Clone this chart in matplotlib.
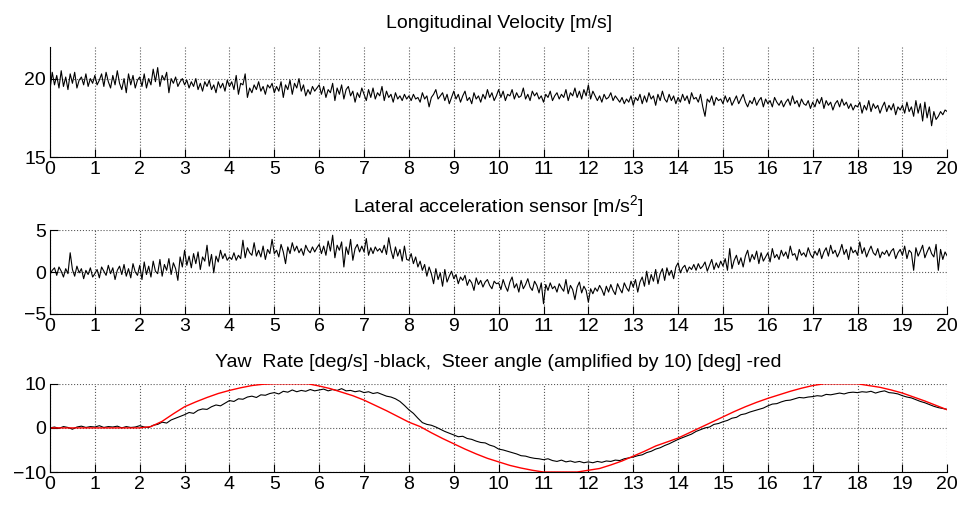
import numpy as np
import matplotlib
matplotlib.use("Agg")
import matplotlib.pyplot as plt

plt.rcParams['font.family'] = ['Liberation Sans', 'DejaVu Sans']
plt.rcParams['mathtext.default'] = 'regular'

# longitudinal velocity [m/s], 0.05 s steps
velocidade = [
    19.3, 20.4, 19.6, 20.2, 19.4, 20.5, 19.5, 20.1, 19.3, 20.3, 19.7, 20.4, 19.4, 19.9, 20.1, 19.6, 20.3, 19.5, 20.0, 19.7,
    20.2, 19.6, 19.9, 20.3, 19.5, 20.4, 19.8, 19.4, 20.2, 19.6, 20.5, 19.7, 19.3, 20.0, 19.1, 20.3, 19.6, 20.2, 19.4, 19.9,
    20.1, 19.5, 20.3, 19.4, 20.0, 19.6, 20.6, 19.8, 20.7, 19.5, 20.2, 19.9, 20.4, 19.1, 20.0, 19.7, 20.1, 19.5, 19.8, 20.0,
    19.6, 19.9, 19.4, 19.8, 19.5, 20.0, 19.3, 19.7, 19.2, 19.8, 19.5, 19.9, 19.3, 19.6, 19.1, 19.8, 19.4, 19.7, 19.2, 19.9,
    19.5, 19.8, 19.3, 20.2, 19.0, 19.7, 19.6, 20.3, 18.8, 19.4, 19.1, 19.6, 19.3, 19.8, 19.2, 19.5, 19.0, 19.6, 19.4, 19.7,
    19.1, 19.5, 19.2, 19.8, 18.8, 19.6, 19.3, 19.9, 19.0, 19.7, 19.4, 20.0, 19.2, 19.6, 18.9, 19.3, 19.0, 19.5, 19.2, 19.4,
    19.6, 19.0, 19.5, 18.8, 19.3, 19.1, 19.7, 18.6, 19.4, 19.0, 19.6, 18.7, 19.3, 19.5, 18.9, 19.2, 18.5, 19.1, 18.8, 19.4,
    19.0, 18.6, 19.3, 18.8, 19.4, 18.7, 19.1, 18.9, 19.5, 18.6, 19.2, 18.8, 19.0, 18.5, 19.1, 18.7, 18.9, 18.6, 19.0, 18.7,
    18.9, 18.6, 19.0, 18.7, 18.8, 18.5, 19.1, 18.7, 18.9, 18.2, 18.8, 19.0, 19.3, 18.7, 18.9, 19.1, 18.6, 19.0, 18.4, 18.8,
    19.2, 18.7, 19.0, 18.5, 18.9, 19.2, 18.6, 18.8, 18.4, 19.1, 18.7, 18.9, 18.5, 19.0, 18.7, 19.3, 18.8, 19.1, 18.6, 18.9,
    19.3, 18.8, 19.2, 18.6, 19.0, 18.9, 19.3, 18.7, 19.1, 18.8, 18.9, 19.4, 18.7, 19.0, 18.6, 19.2, 18.9, 19.1, 18.7, 18.9,
    18.5, 19.0, 18.8, 19.2, 18.6, 18.9, 19.1, 18.7, 19.0, 18.8, 19.3, 18.6, 19.1, 18.9, 19.4, 18.8, 19.2, 18.7, 19.3, 18.9,
    19.6, 18.7, 19.2, 18.9, 18.6, 18.9, 18.5, 19.0, 18.7, 18.8, 19.1, 18.6, 18.9, 18.7, 18.5, 18.8, 18.4, 18.7, 18.5, 18.9,
    18.3, 18.8, 18.6, 19.0, 18.4, 18.9, 18.5, 19.1, 18.7, 18.9, 18.3, 19.0, 18.6, 19.2, 18.7, 18.5, 19.0, 18.6, 18.9, 18.4,
    18.8, 18.5, 19.0, 18.6, 18.9, 18.4, 19.1, 18.7, 18.8, 18.5, 19.0, 18.2, 17.6, 18.7, 18.5, 18.9, 18.3, 18.8, 18.6, 18.7,
    18.4, 18.9, 18.5, 18.8, 18.3, 18.6, 18.9, 18.4, 18.7, 19.0, 18.5, 18.2, 18.6, 18.4, 18.8, 18.3, 18.6, 18.8, 18.2, 18.7,
    18.4, 18.6, 18.2, 18.8, 18.5, 18.3, 18.6, 18.2, 18.5, 18.7, 18.3, 18.9, 18.4, 18.6, 18.2, 18.7, 18.4, 18.3, 18.6, 18.1,
    18.5, 18.2, 18.7, 18.4, 18.8, 18.1, 18.6, 18.3, 18.5, 18.0, 18.4, 18.6, 18.2, 18.7, 18.3, 18.5, 18.1, 18.4, 18.0, 18.3,
    18.2, 18.5, 17.8, 18.3, 18.0, 18.6, 17.9, 18.4, 18.1, 18.3, 17.8, 18.2, 18.5, 17.9, 18.3, 18.0, 18.4, 17.7, 18.2, 18.0,
    18.3, 17.8, 18.5, 17.9, 18.2, 17.6, 18.6, 17.8, 18.4, 17.3, 18.5, 17.5, 18.2, 17.0, 17.9, 17.4, 17.6, 17.9, 17.7, 18.0,
    17.9,
]

# lateral acceleration [m/s^2], 0.05 s steps
acel_lateral = [
    -0.3, 0.2, 0.5, -0.4, 0.6, 0.1, -0.6, 0.4, -0.2, 2.3, 0.3, -0.5, 0.7, -0.1, 0.4, -0.8, 0.2, -0.3, 0.5, -0.6,
    -0.2, 0.3, -0.7, 0.6, 0.1, -0.4, 0.8, -0.2, 0.5, -0.9, 0.2, 0.7, -0.3, 0.9, -0.5, 0.4, -0.7, 1.0, 0.0, -0.4,
    0.8, -0.9, 1.2, -0.3, 0.7, -0.6, 1.3, 0.1, -0.2, 1.5, -0.5, 0.9, 0.2, 1.6, -0.3, 1.1, 0.4, -1.0, 1.8, 0.6,
    2.6, 0.8, 1.9, 0.5, 2.2, 1.0, 2.4, 0.3, 1.8, 1.3, 3.2, 0.7, 2.1, -0.1, 1.9, 1.2, 2.6, 1.6, 2.2, 1.4,
    1.8, 1.5, 2.3, 1.4, 2.0, 1.6, 3.8, 1.7, 2.9, 2.3, 2.0, 3.5, 1.9, 2.6, 1.8, 3.1, 1.5, 2.7, 2.2, 3.9,
    2.2, 2.6, 1.8, 3.3, 2.4, 1.0, 3.0, 2.2, 3.5, 2.5, 3.1, 2.3, 2.8, 2.0, 3.2, 2.6, 2.3, 3.0, 2.4, 2.9,
    3.3, 2.2, 3.1, 2.0, 3.7, 2.5, 4.4, 1.7, 3.2, 2.6, 3.6, 0.6, 3.0, 2.1, 3.9, 1.4, 2.8, 3.3, 2.4, 3.1,
    2.4, 4.0, 2.0, 2.9, 2.2, 3.0, 2.5, 2.8, 2.3, 3.2, 2.1, 4.1, 2.6, 1.6, 3.0, 1.9, 2.7, 1.3, 3.1, 1.5,
    1.4, 2.2, 1.0, 1.8, 0.6, 1.3, 0.2, 0.9, -0.5, 0.6, -0.2, -1.4, 0.4, -0.9, -0.1, -1.7, 0.3, -1.2, -0.5, 0.1,
    -0.8, -0.3, -1.4, -0.6, -1.0, -0.4, -1.6, -0.9, -1.3, -2.2, -0.7, -1.5, -1.0, -1.8, -1.2, -0.9, -1.6, -2.0, -1.1, -1.4,
    -1.3, -2.1, -0.9, -1.7, -2.3, -1.2, -0.6, -1.9, -1.4, -2.4, -1.0, -2.0, -1.5, -0.8, -1.8, -2.2, -1.1, -1.6, -2.5, -1.3,
    -3.8, -1.5, -2.2, -1.3, -2.0, -1.7, -2.4, -1.4, -1.9, -2.3, -0.9, -2.6, -1.6, -2.1, -3.3, -1.8, -1.2, -2.5, -1.7, -2.2,
    -3.6, -2.0, -2.6, -1.9, -2.3, -1.6, -2.1, -2.8, -1.7, -2.4, -1.5, -2.2, -2.7, -1.4, -2.0, -2.5, -1.3, -1.9, -2.3, -1.1,
    -1.8, -0.9, -2.4, -1.2, -0.6, -1.7, 0.1, -1.5, -0.3, -1.1, 0.3, -1.4, -0.2, 0.4, -1.0, 0.5, -0.4, 0.2, -0.8, 0.6,
    1.1, -0.1, 0.5, 0.8, 0.0, 0.6, 0.3, 0.9, 0.2, 1.0, 0.4, 0.7, 1.2, 0.1, 0.8, 1.5, 0.3, 1.1, 0.5, 1.3,
    0.7, 1.6, 0.2, 2.8, 0.4, 1.4, 2.0, 0.9, 1.7, 0.6, 1.9, 2.6, 1.2, 2.1, 1.5, 2.5, 1.0, 2.3, 1.3, 1.8,
    2.3, 1.2, 2.8, 1.7, 2.1, 1.5, 2.6, 1.9, 2.4, 1.6, 3.1, 2.0, 2.2, 1.4, 2.7, 2.0, 2.3, 1.8, 2.9, 2.1,
    1.7, 2.5, 2.0, 2.8, 1.6, 2.4, 2.9, 1.9, 3.2, 2.2, 2.6, 1.8, 2.4, 3.3, 2.1, 2.7, 1.5, 3.0, 2.3, 2.6,
    2.0, 3.6, 2.2, 2.9, 1.8, 2.5, 3.1, 2.3, 2.0, 2.8, 1.7, 2.4, 2.1, 2.6, 1.9, 2.5, 2.8, 1.6, 2.3, 2.7,
    2.0, 3.1, 1.6, 2.6, 2.3, 0.2, 2.9, 1.9, 2.5, 3.2, 1.7, 2.4, 3.0, 2.2, 1.8, 3.3, 0.2, 2.7, 1.5, 2.4,
    1.9,
]

# yaw rate [deg/s], 0.1 s steps
guinada = [
    0.0, 0.2, -0.1, 0.3, 0.1, -0.3, 0.2, 0.4, 0.1, 0.3,
    0.2, 0.5, 0.1, 0.3, 0.2, 0.4, 0.0, 0.3, 0.1, 0.2,
    0.5, 0.2, 0.1, 0.6, 0.8, 1.3, 1.1, 1.8, 2.2, 2.6,
    3.0, 3.5, 3.3, 4.0, 4.3, 4.2, 4.8, 5.2, 5.0, 5.6,
    6.2, 6.0, 6.6, 6.5, 7.0, 7.2, 6.9, 7.5, 7.4, 7.8,
    8.0, 7.7, 8.3, 8.1, 8.6, 8.2, 8.5, 8.3, 8.7, 8.4,
    8.6, 8.8, 8.4, 8.7, 8.5, 8.9, 8.4, 8.5, 8.2, 8.4,
    8.0, 8.2, 7.8, 8.0, 7.6, 7.2, 7.0, 6.6, 6.0, 5.1,
    4.1, 3.3, 2.2, 1.2, 0.8, 0.6, 0.2, -0.3, -0.8, -1.2,
    -1.6, -2.0, -1.9, -2.4, -2.6, -3.0, -3.3, -3.4, -3.9, -4.2,
    -4.8, -5.0, -5.3, -5.6, -5.9, -6.3, -6.4, -6.7, -6.9, -7.0,
    -7.2, -7.0, -7.4, -7.6, -7.3, -7.7, -7.5, -7.8, -7.6, -7.9,
    -7.7, -7.9, -7.6, -7.8, -7.5, -7.6, -7.3, -7.4, -7.0, -6.8,
    -6.6, -6.3, -6.1, -5.6, -5.3, -4.8, -4.5, -4.0, -3.6, -3.1,
    -2.6, -2.2, -1.8, -1.4, -0.8, -0.4, 0.0, 0.2, 0.8, 1.0,
    1.4, 1.7, 2.2, 2.4, 3.0, 3.2, 3.6, 3.9, 4.2, 4.5,
    5.0, 5.4, 5.5, 5.9, 6.2, 6.3, 6.6, 6.9, 6.8, 7.0,
    7.1, 7.3, 7.2, 7.6, 7.5, 7.7, 7.9, 7.7, 8.0, 8.1,
    8.0, 8.2, 8.1, 8.3, 7.9, 8.2, 8.4, 8.0, 7.9, 7.7,
    7.3, 7.0, 6.8, 6.4, 6.0, 5.7, 5.3, 4.9, 4.6, 4.4,
    4.2,
]

# steer angle x10 [deg], 0.25 s steps
volante = [
    0, 0, 0, 0, 0, 0, 0, 0, 0,
    0.3, 1.5, 3.2, 4.8, 5.9, 6.9, 7.8, 8.5, 9.1, 9.6, 9.9,
    10, 10, 10, 10, 9.5, 8.9, 8.1, 7.3, 6.3, 5.1, 3.9, 2.6,
    1.3, 0.3, -1.1, -2.4, -3.6, -4.8, -5.9, -6.9, -7.7, -8.5,
    -9.1, -9.6, -10, -10, -10, -10, -9.6, -9.2, -8.4, -7.5,
    -6.4, -5.3, -4.1, -3.2, -2.3, -1.1, 0.1, 1.3, 2.5, 3.7,
    4.8, 5.8, 6.7, 7.5, 8.3, 9.0, 9.6, 10, 10, 10,
    10, 9.6, 9.2, 8.6, 7.9, 7.0, 6.1, 5.1, 4.1,
]

t_rapido = np.linspace(0, 20, len(velocidade))
t_guinada = np.linspace(0, 20, len(guinada))
t_volante = np.linspace(0, 20, len(volante))

fig = plt.figure(figsize=(9.69, 5.07), dpi=100)
ax1 = fig.add_axes([0.0516, 0.690, 0.926, 0.217])
ax2 = fig.add_axes([0.0516, 0.381, 0.926, 0.165])
ax3 = fig.add_axes([0.0516, 0.069, 0.926, 0.174])

ax1.plot(t_rapido, velocidade, color="k", lw=0.8)
ax2.plot(t_rapido, acel_lateral, color="k", lw=0.8)
ax3.plot(t_guinada, guinada, color="k", lw=0.8)
ax3.plot(t_volante, volante, color="red", lw=1.0)

ax1.set_ylim(15, 22)
ax1.set_yticks([15, 20])
ax2.set_ylim(-5, 5)
ax2.set_yticks([-5, 0, 5])
ax3.set_ylim(-10, 10)
ax3.set_yticks([-10, 0, 10])

ax1.set_title("Longitudinal Velocity [m/s]", fontsize=14, pad=14)
ax2.set_title("Lateral acceleration sensor [m/s$^2$]", fontsize=14, pad=13)
ax3.set_title("Yaw  Rate [deg/s] -black,  Steer angle (amplified by 10) [deg] -red", fontsize=14, pad=12)

for ax in (ax1, ax2, ax3):
    ax.set_xlim(0, 20)
    ax.set_xticks(range(0, 21))
    ax.spines["top"].set_visible(False)
    ax.spines["right"].set_visible(False)
    ax.tick_params(direction="in", length=6, width=0.8, labelsize=14, pad=3)
    ax.grid(True, linestyle=":", color="0.35", lw=0.8)

plt.savefig("out.png", dpi=100)
